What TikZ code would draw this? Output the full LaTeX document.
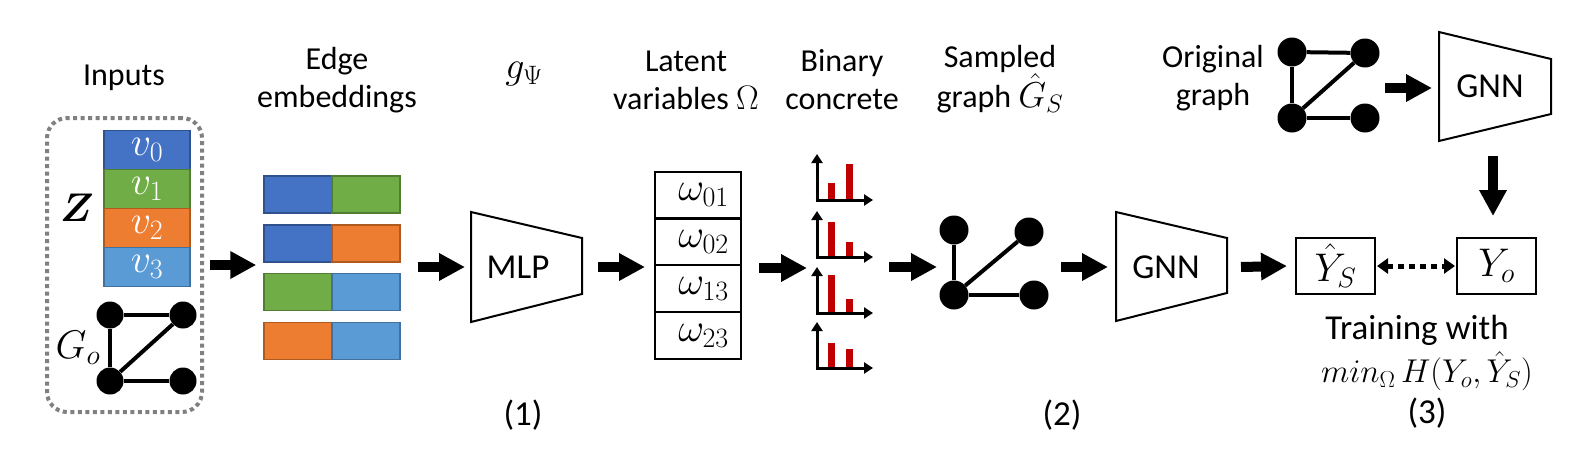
\RequirePackage{fix-cm}
\documentclass[tikz,border=0pt]{standalone}
\usepackage{bm}
\usepackage{fontspec}
\setmainfont{Carlito}
\usetikzlibrary{arrows.meta}
\definecolor{cblue}{HTML}{4472C4}\definecolor{cblueD}{HTML}{2F528F}
\definecolor{cgreen}{HTML}{70AD47}\definecolor{cgreenD}{HTML}{507E32}
\definecolor{corange}{HTML}{ED7D31}\definecolor{corangeD}{HTML}{AE5A21}
\definecolor{clblue}{HTML}{5B9BD5}\definecolor{clblueD}{HTML}{41719C}
\definecolor{cred}{HTML}{C00000}
\definecolor{cgray}{HTML}{808080}
\newcommand\labfont{\fontsize{32}{38}\selectfont}
\newcommand\lgfont{\fontsize{35}{42}\selectfont}
\newcommand\mathfnt{\fontsize{40}{44}\selectfont}
\newcommand\mlabfnt{\fontsize{38}{38}\selectfont}
\newcommand\minfnt{\fontsize{33}{36}\selectfont}
\begin{document}
\begin{tikzpicture}[x=1pt,y=-1pt,
  lbl/.style={font=\labfont, align=center, inner sep=0pt},
  big/.style={font=\lgfont, align=center, inner sep=0pt},
  vbox/.style={minimum width=86pt, minimum height=39pt, draw, line width=1.5pt, text=white, font=\mathfnt, inner sep=0pt},
  ebox/.style={minimum width=68pt, minimum height=37pt, draw, line width=1.5pt, inner sep=0pt},
  wbox/.style={draw, line width=2pt, minimum width=86pt, minimum height=47pt, font=\mathfnt, inner sep=0pt},
  ybox/.style={draw, line width=2pt, minimum width=79pt, minimum height=56pt, font=\mathfnt, inner sep=0pt},
  gdot/.style={circle, fill=black, minimum size=27pt, inner sep=0pt},
  gedge/.style={line width=4pt},
  blk/.style={line width=10pt, -{Triangle[length=26pt,width=26pt]}},
  trap/.style={draw, line width=2pt, line join=miter},
  ax/.style={line width=3pt, -{Triangle[length=9pt,width=11pt]}},
  dda/.style={line width=5pt, dash pattern=on 6pt off 5pt, {Triangle[length=11pt,width=15pt]}-{Triangle[length=11pt,width=15pt]}},
  dotbox/.style={draw=cgray, line width=4pt, dash pattern=on 4pt off 3.5pt, rounded corners=20pt, minimum width=155pt, minimum height=294pt, inner sep=0pt}
]
\useasboundingbox (0,0) rectangle (1570,458);

% ---------- top labels ----------
\node[lbl] (tInputs) at (124,78) {Inputs};
\node[lbl] (tEdge) at (337,80) {Edge\\embeddings};
\node[lbl, font=\mlabfnt] (tg) at (524,74) {$g_\Psi$};
\node[lbl] (tLatent) at (686,80) {Latent\\variables {\fontsize{34}{38}\selectfont$\Omega$}};
\node[lbl] (tBin) at (842,80) {Binary\\concrete};
\node[lbl] (tSamp) at (1000,79) {Sampled\\graph {\fontsize{36}{38}\selectfont$\hat{G}_S$}};
\node[lbl] (tOrig) at (1213,78) {Original\\graph};

% ---------- inputs ----------
\node[dotbox] (inbox) at (124.5,265) {};
\node[vbox, fill=cblue, draw=cblueD] (v0) at (147,150) {$v_0$};
\node[vbox, fill=cgreen, draw=cgreenD] (v1) at (147,189) {$v_1$};
\node[vbox, fill=corange, draw=corangeD] (v2) at (147,228) {$v_2$};
\node[vbox, fill=clblue, draw=clblueD] (v3) at (147,267) {$v_3$};
\node[font=\mathfnt, inner sep=0pt] (zlab) at (77,208) {$\bm{Z}$};
\node[gdot] (g1) at (110,315) {};
\node[gdot] (g2) at (183,315) {};
\node[gdot] (g3) at (110,381) {};
\node[gdot] (g4) at (183,381) {};
\draw[gedge] (g1) -- (g2);
\draw[gedge] (g1) -- (g3);
\draw[gedge] (g3) -- (g2);
\draw[gedge] (g3) -- (g4);
\node[font=\mathfnt, inner sep=0pt] (golab) at (78,348) {$G_o$};

% ---------- edge embeddings ----------
\node[ebox, fill=cblue, draw=cblueD] (eL1) at (298,194.5) {};
\node[ebox, fill=cgreen, draw=cgreenD] (eR1) at (366,194.5) {};
\node[ebox, fill=cblue, draw=cblueD] (eL2) at (298,243.5) {};
\node[ebox, fill=corange, draw=corangeD] (eR2) at (366,243.5) {};
\node[ebox, fill=cgreen, draw=cgreenD] (eL3) at (298,292) {};
\node[ebox, fill=clblue, draw=clblueD] (eR3) at (366,292) {};
\node[ebox, fill=corange, draw=corangeD] (eL4) at (298,341) {};
\node[ebox, fill=clblue, draw=clblueD] (eR4) at (366,341) {};
\draw[blk] ([xshift=6pt]inbox.east) -- ([xshift=-7pt]eL2.west |- inbox.east);

% ---------- MLP ----------
\coordinate (mlpL) at (471,267);
\coordinate (mlpR) at (582,267);
\draw[trap] (471,212) -- (582,238) -- (582,294) -- (471,322) -- cycle;
\node[big] (mlp) at (518,267) {MLP};
\draw[blk] ([xshift=17pt]mlpL -| eR2.east) -- ([xshift=-6pt]mlpL);
\node[big] (n1) at (523,415) {(1)};

% ---------- latent variables ----------
\node[wbox] (w1) at (698,195) {$\;\omega_{01}$};
\node[wbox] (w2) at (698,241.5) {$\;\omega_{02}$};
\node[wbox] (w3) at (698,288.5) {$\;\omega_{13}$};
\node[wbox] (w4) at (698,335.5) {$\;\omega_{23}$};
\draw[blk] ([xshift=16pt]mlpR) -- ([xshift=-9pt]mlpR -| w2.west);

% ---------- binary concrete ----------
\coordinate (c1) at (817,200);
\coordinate (c2) at (817,257);
\coordinate (c3) at (817,313);
\coordinate (c4) at (817,368);
\foreach \c/\ha/\hb in {c1/17/36, c2/35/15, c3/38/14, c4/25/19}{
  \fill[cred] ([xshift=11pt]\c) rectangle ([xshift=18pt,yshift=\ha pt]\c);
  \fill[cred] ([xshift=29pt]\c) rectangle ([xshift=36pt,yshift=\hb pt]\c);
  \draw[ax] ([yshift=-1.5pt]\c) -- ([yshift=46pt]\c);
  \draw[ax] ([xshift=-1.5pt]\c) -- ([xshift=56pt]\c);
}
\coordinate (a4s) at (759,268);
\draw[blk] (a4s) -- ([xshift=-10pt]a4s -| c3);

% ---------- sampled graph ----------
\node[gdot, minimum size=29pt] (s1) at (954,230) {};
\node[gdot, minimum size=29pt] (s2) at (1029,232) {};
\node[gdot, minimum size=29pt] (s3) at (954,295) {};
\node[gdot, minimum size=29pt] (s4) at (1034,295) {};
\draw[gedge] (s1) -- (s3);
\draw[gedge] (s3) -- (s2);
\draw[gedge] (s3) -- (s4);
\coordinate (a5e) at (937,267);
\draw[blk] ([xshift=-48pt]a5e) -- (a5e);

% ---------- GNN (sampled) ----------
\coordinate (gnn2L) at (1116,267);
\coordinate (gnn2R) at (1227,267);
\draw[trap] (1116,212) -- (1227,238) -- (1227,293) -- (1116,321) -- cycle;
\node[big] (gnn2) at (1166,267) {GNN};
\draw[blk] ([xshift=-55pt]gnn2L) -- ([xshift=-8pt]gnn2L);
\node[big] (n2) at (1062,415) {(2)};

% ---------- outputs ----------
\node[ybox] (ys) at (1335.5,266) {$\hat{Y}_S$};
\node[ybox] (yo) at (1496.5,266) {$Y_o$};
\draw[blk] ([xshift=14pt]gnn2R) -- ([xshift=-8pt]ys.west);
\draw[dda] ([xshift=1pt]ys.east) -- ([xshift=-1pt]yo.west);
\node[big] (train) at (1417,330) {Training with};
\node[font=\minfnt, inner sep=0pt] (minl) at (1427,371) {$min_\Omega\, H(Y_o,\hat{Y}_S)$};
\node[big] (n3) at (1427,413) {(3)};

% ---------- original graph & GNN ----------
\node[gdot, minimum size=29pt] (o1) at (1292,52) {};
\node[gdot, minimum size=29pt] (o2) at (1365,53) {};
\node[gdot, minimum size=29pt] (o3) at (1292,118) {};
\node[gdot, minimum size=29pt] (o4) at (1365,118) {};
\draw[gedge] (o1) -- (o2);
\draw[gedge] (o1) -- (o3);
\draw[gedge] (o3) -- (o2);
\draw[gedge] (o3) -- (o4);
\coordinate (gnn1L) at (1439,88);
\coordinate (gnn1B) at (1493,141);
\draw[trap] (1439,32) -- (1551,59) -- (1551,114) -- (1439,141) -- cycle;
\node[big] (gnn1) at (1490,86) {GNN};
\draw[blk] ([xshift=-54pt]gnn1L) -- ([xshift=-7pt]gnn1L);
\draw[blk] ([yshift=-15pt]gnn1B) -- ([yshift=21pt]gnn1B |- yo.north);
\end{tikzpicture}
\end{document}
